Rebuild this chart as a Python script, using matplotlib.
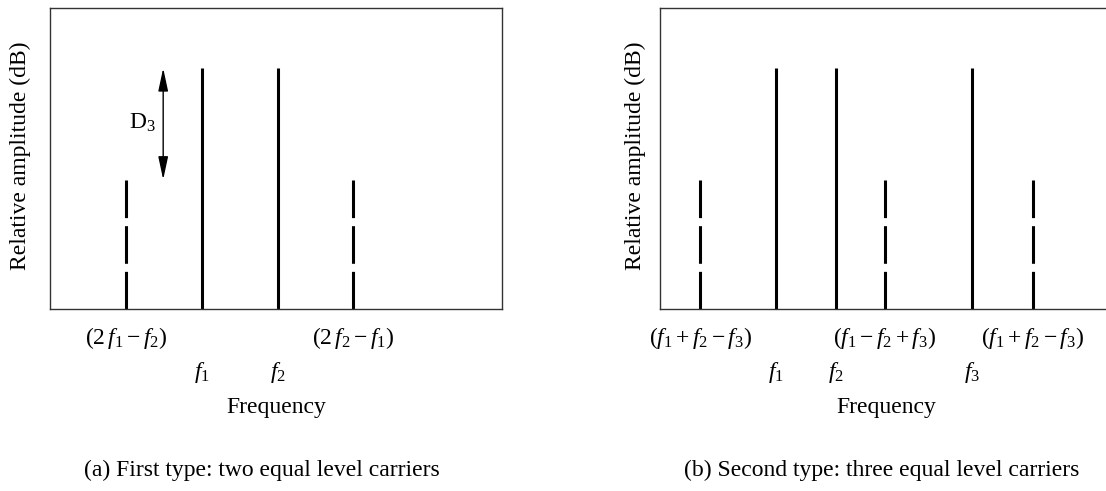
import matplotlib
matplotlib.use("Agg")
import matplotlib.pyplot as plt

plt.rcParams['font.family'] = ['Liberation Serif', 'DejaVu Serif']
plt.rcParams['mathtext.fontset'] = 'custom'
plt.rcParams['mathtext.rm'] = 'Liberation Serif'
plt.rcParams['mathtext.it'] = 'Liberation Serif:italic'
plt.rcParams['lines.scale_dashes'] = False

# (a) two carriers + 3rd order products
left_freqs = [1.0, 2.0, 3.0, 3.99]
left_levels = [0.43, 0.80, 0.80, 0.43]
left_imd = [True, False, False, True]
left_labels = [r'$(2\,f_1 - f_2)$', r'$f_1$', r'$f_2$', r'$(2\,f_2 - f_1)$']
left_rows = [0, 1, 1, 0]

# (b) three carriers + products
right_freqs = [0.53, 1.53, 2.32, 2.96, 4.11, 4.91]
right_levels = [0.43, 0.80, 0.80, 0.43, 0.80, 0.43]
right_imd = [True, False, False, True, False, True]
right_labels = [r'$(f_1 + f_2 - f_3)$', r'$f_1$', r'$f_2$',
                r'$(f_1 - f_2 + f_3)$', r'$f_3$', r'$(f_1 + f_2 - f_3)$']
right_rows = [0, 1, 1, 0, 1, 0]

# D3 arrow between carrier level and product level
d3_x = 1.49

FS = 17
W, H = 1106, 491


def draw_spectrum(ax, freqs, levels, imd, labels, rows):
    for f, lvl, dashed in zip(freqs, levels, imd):
        if dashed:
            ax.plot([f, f], [0, lvl], color='black', lw=2.2,
                    linestyle=(0, (27.1, 5.8)), dash_capstyle='butt')
        else:
            ax.plot([f, f], [0, lvl], color='black', lw=2.2,
                    solid_capstyle='butt')
    ax.set_xlim(0, 5.95)
    ax.set_ylim(0, 1)
    ax.set_yticks([])
    ax.set_xticks(freqs)
    ax.set_xticklabels(labels, fontsize=FS)
    for tick, r in zip(ax.xaxis.get_major_ticks(), rows):
        tick.tick1line.set_visible(False)
        tick.set_pad(8 if r == 0 else 33)
    for s in ax.spines.values():
        s.set_color('#333333')
        s.set_linewidth(1.0)
    ax.set_xlabel('Frequency', fontsize=FS)
    ax.xaxis.label.set_va('center')
    ax.xaxis.set_label_coords(0.5, -0.326)
    ax.set_ylabel('Relative amplitude (dB)', fontsize=FS)
    ax.yaxis.label.set_va('center')


fig = plt.figure(figsize=(W / 100, H / 100), dpi=100)

ax1 = fig.add_axes([50 / W, 182 / H, 452 / W, 301 / H])
draw_spectrum(ax1, left_freqs, left_levels, left_imd, left_labels, left_rows)
ax1.yaxis.set_label_coords(-0.066, 0.51)
ax1.annotate('', xy=(d3_x, left_levels[1]), xytext=(d3_x, left_levels[0]),
             arrowprops=dict(arrowstyle='<|-|>,head_length=1.4,head_width=0.3',
                             color='black', lw=1.0, mutation_scale=10,
                             shrinkA=0, shrinkB=0))
ax1.text(1.21, 0.62, r'$\mathrm{D}_3$', fontsize=FS, ha='center', va='center')

ax2 = fig.add_axes([660 / W, 182 / H, 452 / W, 301 / H])
draw_spectrum(ax2, right_freqs, right_levels, right_imd, right_labels, right_rows)
ax2.yaxis.set_label_coords(-0.055, 0.51)

fig.text(262 / W, 1 - 470 / H, '(a) First type: two equal level carriers',
         fontsize=FS, ha='center', va='center')
fig.text(882 / W, 1 - 470 / H, '(b) Second type: three equal level carriers',
         fontsize=FS, ha='center', va='center')

fig.savefig('out.png', dpi=100)
